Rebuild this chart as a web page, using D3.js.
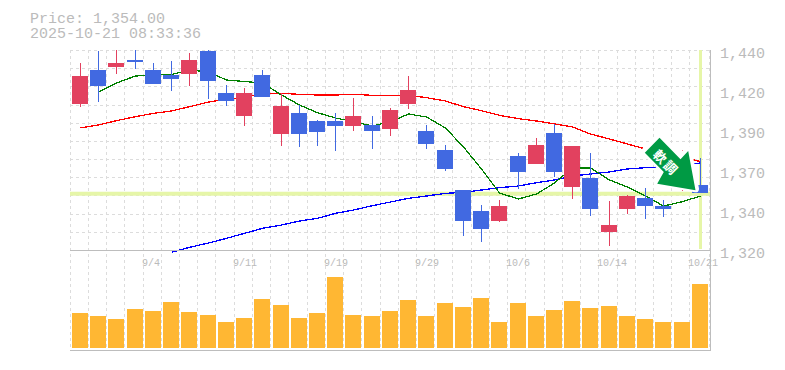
<!DOCTYPE html>
<html><head><meta charset="utf-8">
<script src="https://cdn.jsdelivr.net/npm/d3@7"></script>
<style>html,body{margin:0;padding:0;background:#fff}svg{display:block}</style></head>
<body><svg id="c" width="785" height="370"></svg>
<script>
const titleLines=["Price: 1,354.00","2025-10-21 08:33:36"];
const dateLabels=["9/4","9/11","9/19","9/29","10/6","10/14","10/21"];
const dateIndex=[4,9,14,19,24,29,34];
const priceTicks=[1320,1344,1368,1392,1416,1440];
const lastPrice=1354;
const signalText="軟調";
const open=[1407.6,1428,1429.8,1434,1428,1425,1425.6,1439.4,1414.2,1400.4,1425,1389.6,1402.2,1397.4,1397.4,1394.4,1395,1392.6,1407.6,1391.4,1380,1356,1343.4,1337.4,1376.4,1371.6,1390.2,1357.8,1363.2,1330.8,1344.6,1351.2,1346.4,1357.2,1359];
const close=[1424.4,1418.4,1432.2,1432.8,1419.6,1422.6,1434,1421.4,1409.4,1414.2,1411.8,1406.4,1389.6,1390.8,1394.4,1400.4,1391.4,1404,1416,1383.6,1368.6,1337.4,1332.6,1346.4,1366.8,1383,1366.8,1382.4,1344.6,1335,1352.4,1346.4,1344.6,1371,1354];
const high=[1432.2,1439.4,1440,1440,1432.2,1433.4,1438.2,1440,1419,1417.2,1428,1414.2,1407,1398,1402.2,1411.2,1400.4,1405.2,1424.4,1395,1383,1356,1347,1350,1378.2,1387.2,1395.6,1382.4,1378.2,1349.4,1353,1357.2,1350,1380,1375.2];
const low=[1406,1409,1425.6,1428.6,1419.6,1415.4,1418.4,1410.6,1406.4,1394.4,1411.8,1382.4,1381.8,1382.4,1379.4,1391.4,1380.6,1388.4,1404.6,1380.6,1367.4,1328.4,1324.8,1336.8,1356.6,1371.6,1363.8,1350.6,1340.4,1322.4,1341.6,1338.6,1339.8,1355.4,1354];
const volume=[35,32,29,39,37,46,36,33,26,30,49,43,30,35,71,33,32,37,48,32,45,41,50,26,45,32,38,47,40,42,32,29,26,26,64];
const ma5=[null,1414.8,1420.2,1424.4,1425,1425.3,1428,1426.8,1422,1421.1,1420.2,1413,1407,1402.4,1399.2,1397,1394.4,1397,1401.6,1399.8,1393.2,1381.8,1368.6,1354.2,1350.6,1353.6,1360.2,1369.2,1369.2,1362,1357.8,1352.4,1346.4,1349,1352.4];
const ma25=[1393.2,1395,1397.6,1400,1402,1403.4,1406,1408.8,1410.4,1411.8,1413.9,1414,1413.4,1413,1413,1413.4,1412.8,1412.8,1412.8,1411.4,1409.4,1406,1403.6,1400.8,1398.8,1397.4,1395.6,1393.8,1389.6,1386.6,1383.6,1380.6,1378.2,1375.8,1373];
const ma75=[null,null,null,null,null,1318.6,1321.6,1324.2,1327,1330,1333,1335,1337.4,1339,1342,1344,1346.6,1348.8,1351,1352.4,1354,1354.6,1356,1357.4,1358.4,1360.4,1362,1364.4,1365.6,1366.8,1368.6,1369.4,1370,1371,1372.2];

const svg=d3.select("#c");
const mono='"Liberation Mono","DejaVu Sans Mono",monospace';
const L=70.1,STEP=18.23,N=open.length;
const R=710,TOP=50,MID=250,BOT=350;
const band=d3.scaleBand().domain(d3.range(N)).range([L,L+N*STEP]);
const gx=i=>Math.floor(band(i));
const bx=i=>Math.floor(band(i)+2.4);
const cx=i=>bx(i)+8.5;
const y=d3.scaleLinear().domain([1320,1440]).range([MID,TOP]);
const yv=d3.scaleLinear().domain([0,100]).range([348,248]);
const GRID="#dcdcdc",AXIS="#bdbdbd",HILITE="#e6f6a8";

// grid
const hg=d3.range(12).map(i=>1440-i*120/11);
svg.append("g").selectAll("line").data(hg).join("line")
 .attr("x1",70).attr("x2",R)
 .attr("y1",d=>Math.round(y(d))+.5).attr("y2",d=>Math.round(y(d))+.5)
 .attr("stroke",GRID).attr("stroke-dasharray","3 3");
svg.append("g").selectAll("line").data(d3.range(N+1)).join("line")
 .attr("x1",i=>(i<N?gx(i):709)+.5).attr("x2",i=>(i<N?gx(i):709)+.5)
 .attr("y1",TOP).attr("y2",BOT)
 .attr("stroke",GRID).attr("stroke-dasharray","3 3");

// highlights
svg.append("rect").attr("x",70).attr("width",R-70).attr("y",y(lastPrice)-1.6).attr("height",4).attr("fill",HILITE);
svg.append("rect").attr("x",bx(N-1)+7).attr("width",3).attr("y",TOP).attr("height",199).attr("fill",HILITE);

// moving averages
const line=d3.line().defined(d=>d!=null).x((d,i)=>cx(i)).y(d=>y(d));
[[ma75,"#0000ff"],[ma25,"#ff0000"],[ma5,"#008000"]].forEach(([s,c])=>{
 svg.append("path").attr("d",line(s)).attr("fill","none").attr("stroke",c)
  .attr("stroke-width",1.3).attr("shape-rendering","crispEdges");
});

// candles
const UP="#e2415f",DOWN="#4169e1";
const col=i=>close[i]>=open[i]?UP:DOWN;
const cg=svg.append("g").attr("shape-rendering","crispEdges");
cg.selectAll("rect.w").data(d3.range(N)).join("rect").attr("class","w")
 .attr("x",i=>bx(i)+8).attr("width",1)
 .attr("y",i=>y(high[i])).attr("height",i=>y(low[i])-y(high[i]))
 .attr("fill",col);
cg.selectAll("rect.b").data(d3.range(N)).join("rect").attr("class","b")
 .attr("x",bx).attr("width",16)
 .attr("y",i=>y(Math.max(open[i],close[i])))
 .attr("height",i=>Math.max(1.5,Math.abs(y(open[i])-y(close[i]))))
 .attr("fill",col);

// volume
svg.append("g").attr("shape-rendering","crispEdges").selectAll("rect").data(volume).join("rect")
 .attr("x",(d,i)=>bx(i)).attr("width",16)
 .attr("y",d=>yv(d)).attr("height",d=>yv(0)-yv(d)).attr("fill","#ffb733");

// axes frame
const frame=svg.append("g").attr("stroke",AXIS).attr("shape-rendering","crispEdges");
frame.append("line").attr("x1",70).attr("x2",R+1).attr("y1",MID).attr("y2",MID);
frame.append("line").attr("x1",70).attr("x2",R+1).attr("y1",BOT).attr("y2",BOT);
frame.append("line").attr("x1",R).attr("x2",R).attr("y1",TOP).attr("y2",BOT);

// text
const fmt=d3.format(",");
svg.append("g").selectAll("text").data(priceTicks).join("text")
 .attr("x",720).attr("y",d=>y(d)+8)
 .attr("font-family",mono).attr("font-size",15).attr("fill","#bbb")
 .text(d=>fmt(Math.round(d/10)*10));
svg.append("g").selectAll("text").data(dateLabels).join("text")
 .attr("x",(d,i)=>gx(dateIndex[i])-1).attr("y",266)
 .attr("font-family",mono).attr("font-size",10).attr("fill","#bbb").text(d=>d);
svg.append("g").selectAll("text").data(titleLines).join("text")
 .attr("x",30).attr("y",(d,i)=>23+i*14.5)
 .attr("font-family",mono).attr("font-size",15).attr("fill","#bbb").text(d=>d);

// signal arrow with white halo
const arrow=d3.line()([[-36,-52.6],[-50.7,-37.6],[-31.7,-18.3],[-38.3,-6.6],[0,0],[-7.3,-39.3],[-15,-31]])+"Z";
const tip=svg.append("g").attr("transform",`translate(${cx(N-1)-5},${y(lastPrice)-3})`);
tip.append("path").attr("d",arrow).attr("transform","translate(0,-1.5)")
 .attr("fill","#fff").attr("stroke","#fff").attr("stroke-width",7).attr("stroke-linejoin","round");
tip.append("path").attr("fill","#009a44").attr("d",arrow);
tip.append("text").attr("transform","translate(-29,-28) rotate(45)")
 .attr("text-anchor","middle").attr("dominant-baseline","central")
 .attr("font-family",'"Noto Sans CJK JP"').attr("font-weight",700).attr("font-size",13)
 .attr("letter-spacing",2).attr("fill","#fff").text(signalText);
</script></body></html>
